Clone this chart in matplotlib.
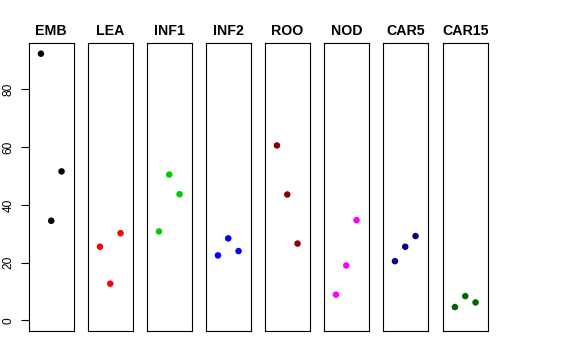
import numpy as np
import matplotlib
matplotlib.use("Agg")
import matplotlib.pyplot as plt

plt.rcParams["font.family"] = ["Liberation Sans", "DejaVu Sans"]

# one panel per tissue, three replicates each (x = replicate index)
tissues = ["EMB", "LEA", "INF1", "INF2", "ROO", "NOD", "CAR5", "CAR15"]
replicate = [1, 2, 3]
emb = [92.4, 34.5, 51.6]
lea = [25.5, 12.7, 30.2]
inf1 = [30.8, 50.5, 43.7]
inf2 = [22.5, 28.4, 24.0]
roo = [60.6, 43.6, 26.6]
nod = [8.9, 19.0, 34.7]
car5 = [20.5, 25.5, 29.2]
car15 = [4.6, 8.4, 6.2]
colors = ["black", "#FF0000", "#00CD00", "#0000FF", "#8B0000", "#FF00FF",
          "#00008B", "#006400"]
yticks = [0, 20, 40, 60, 80]

values = [emb, lea, inf1, inf2, roo, nod, car5, car15]
ymax = max(max(v) for v in values)
pad = 0.04 * ymax

W, H = 576, 360
fig = plt.figure(figsize=(W / 100, H / 100), dpi=100)
lefts = [29, 88, 147, 206, 265, 324, 383, 443]
for i, (name, vals, col) in enumerate(zip(tissues, values, colors)):
    ax = fig.add_axes([lefts[i] / W, 29 / H, 44.5 / W, 288 / H])
    ax.scatter(replicate, vals, s=22, color=col, edgecolors="none", zorder=3)
    ax.set_xlim(-0.16, 4.16)
    ax.set_ylim(-pad, ymax + pad)
    ax.set_xticks([])
    ax.set_title(name, fontsize=10.2, fontweight="bold", pad=6)
    for s in ax.spines.values():
        s.set_linewidth(0.8)
        s.set_color("black")
    if i == 0:
        ax.set_yticks(yticks)
        ax.tick_params(axis="y", length=5.5, width=0.8, pad=5, labelsize=8.6)
        plt.setp(ax.get_yticklabels(), rotation=90, va="center")
    else:
        ax.set_yticks([])

fig.savefig("out.png", dpi=100)
